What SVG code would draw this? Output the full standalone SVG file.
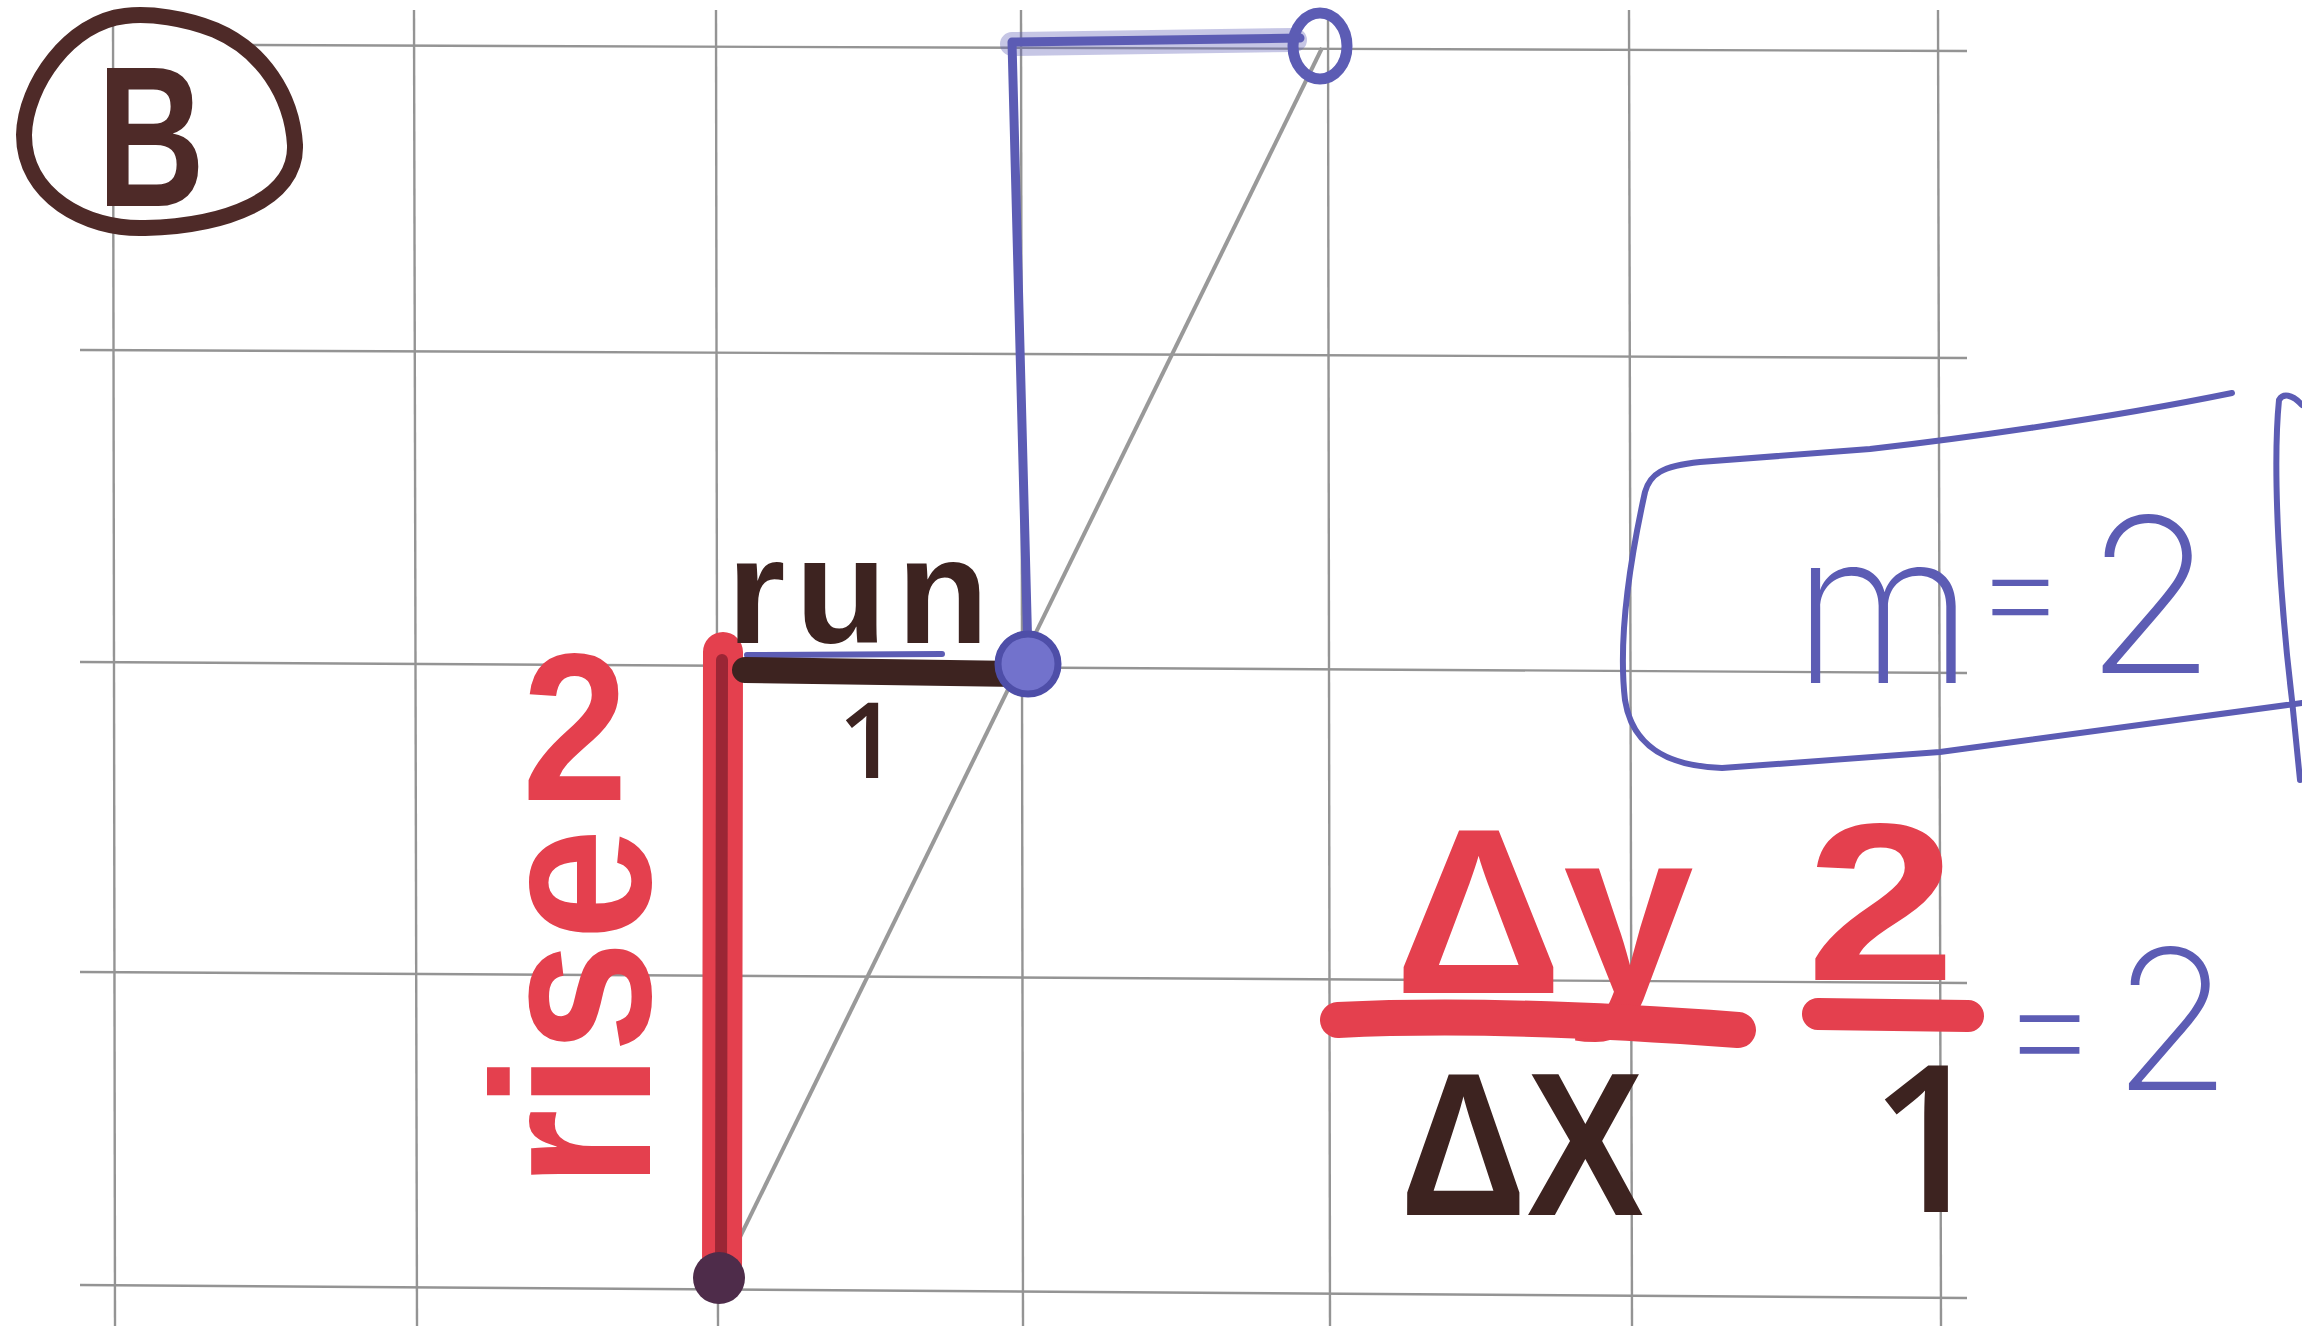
<svg xmlns="http://www.w3.org/2000/svg" width="2302" height="1326" viewBox="0 0 2302 1326">
<style>
.grid{stroke:#949494;stroke-width:2.4;fill:none}
.red{fill:#e4404e}
.brown{fill:#3d2320}
.blue{fill:#5c5cb4}
.hand{font-family:"Liberation Sans",Arial,sans-serif;font-weight:bold}
.one{font-family:"Open Sans","DejaVu Sans",sans-serif;font-weight:600}
.thin{font-family:Inter,Lato,"Open Sans",sans-serif;font-weight:200}
.bstroke{stroke:#5c5cb4;fill:none;stroke-linecap:round;stroke-linejoin:round}
.rstroke{stroke:#e4404e;fill:none;stroke-linecap:round}
</style>
<rect width="2302" height="1326" fill="#ffffff"/>
<g id="grid">
<line class="grid" x1="235" y1="45" x2="1967" y2="51"/>
<line class="grid" x1="80" y1="350" x2="1967" y2="358"/>
<line class="grid" x1="80" y1="662" x2="1967" y2="673"/>
<line class="grid" x1="80" y1="972" x2="1967" y2="983"/>
<line class="grid" x1="80" y1="1285" x2="1967" y2="1298"/>
<line class="grid" x1="113" y1="10" x2="115" y2="1326"/>
<line class="grid" x1="414" y1="10" x2="417" y2="1326"/>
<line class="grid" x1="716" y1="10" x2="718" y2="1326"/>
<line class="grid" x1="1021" y1="10" x2="1023" y2="1326"/>
<line class="grid" x1="1328" y1="10" x2="1330" y2="1326"/>
<line class="grid" x1="1629" y1="10" x2="1632" y2="1326"/>
<line class="grid" x1="1938" y1="10" x2="1941" y2="1326"/>
</g>
<g id="label-B">
<path d="M125,16 C70,22 25,85 24,135 C24,195 85,230 145,228 C225,226 297,200 295,145 C292,95 262,50 215,30 C185,18 150,13 125,16 Z" fill="none" stroke="#4e2a28" stroke-width="16"/>
<text class="hand" x="97" y="206" font-size="200" fill="#4e2a28" textLength="108" lengthAdjust="spacingAndGlyphs">B</text>
</g>
<g id="connectors">
<line id="slope-line" x1="719" y1="1280" x2="1322" y2="48" stroke="#999999" stroke-width="4"/>
<path class="bstroke" d="M1012,44 L1295,40" stroke-width="24" opacity="0.35"/>
<path id="blue-rise" class="bstroke" d="M1028,655 L1012,42 L1300,38" stroke-width="9"/>
<line id="blue-run" class="bstroke" x1="747" y1="655" x2="942" y2="654" stroke-width="6"/>
<line id="rise-line" x1="723" y1="652" x2="722" y2="1282" stroke="#e4404e" stroke-width="40" stroke-linecap="round"/>
<line x1="722" y1="660" x2="721" y2="1275" stroke="#8a2030" stroke-width="12" stroke-linecap="round" opacity="0.8"/>
<line id="run-line" x1="745" y1="670" x2="1025" y2="674" stroke="#3d2320" stroke-width="26" stroke-linecap="round"/>
</g>
<g id="points">
<ellipse id="p-top" cx="1320" cy="46" rx="27" ry="33" fill="none" stroke="#5c5cb4" stroke-width="11"/>
<circle id="p-mid" cx="1028" cy="664" r="30" fill="#7272cc" stroke="#4e4ea8" stroke-width="7"/>
<circle id="p-bottom" cx="719" cy="1278" r="26" fill="#4e2c4a"/>
</g>
<g id="run-label">
<text class="hand brown" x="727" y="643" font-size="150" letter-spacing="10">run</text>
<text class="one brown" x="868" y="778" font-size="105" text-anchor="middle">1</text>
</g>
<g id="rise-label">
<text class="hand red" x="522" y="800" font-size="210" textLength="106" lengthAdjust="spacingAndGlyphs">2</text>
<text class="hand red" transform="translate(650,1188) rotate(-90)" x="0" y="0" font-size="225" textLength="360" lengthAdjust="spacingAndGlyphs">rise</text>
</g>
<g id="slope-box">
<path class="bstroke" d="M2232,393 C2100,420 1950,440 1870,449 L1700,462 C1662,466 1650,474 1645,492 C1630,560 1618,640 1625,700 C1632,745 1665,766 1722,768 L1940,752 L2302,703" stroke-width="6"/>
<path class="bstroke" d="M2302,405 C2292,394 2283,393 2279,400 C2272,470 2280,600 2292,700 L2300,780" stroke-width="6"/>
<text class="thin blue" x="1792" y="683" font-size="210">m</text>
<text class="thin blue" x="1972" y="640" font-size="150">=</text>
<text class="thin blue" x="2084" y="673" font-size="215">2</text>
</g>
<g id="formula">
<text class="hand red" x="1394" y="993" font-size="235">Δy</text>
<path class="rstroke" d="M1338,1020 Q1500,1012 1738,1030" stroke-width="36"/>
<text class="hand red" x="1806" y="980" font-size="225" textLength="150" lengthAdjust="spacingAndGlyphs">2</text>
<line class="rstroke" x1="1818" y1="1014" x2="1968" y2="1016" stroke-width="32"/>
<text class="hand brown" x="1400" y="1215" font-size="205" textLength="244" lengthAdjust="spacingAndGlyphs">ΔX</text>
<text class="one brown" x="1928" y="1212" font-size="205" text-anchor="middle">1</text>
<text class="thin blue" x="1998" y="1080" font-size="160">=</text>
<text class="thin blue" x="2112" y="1090" font-size="195">2</text>
</g>
</svg>
